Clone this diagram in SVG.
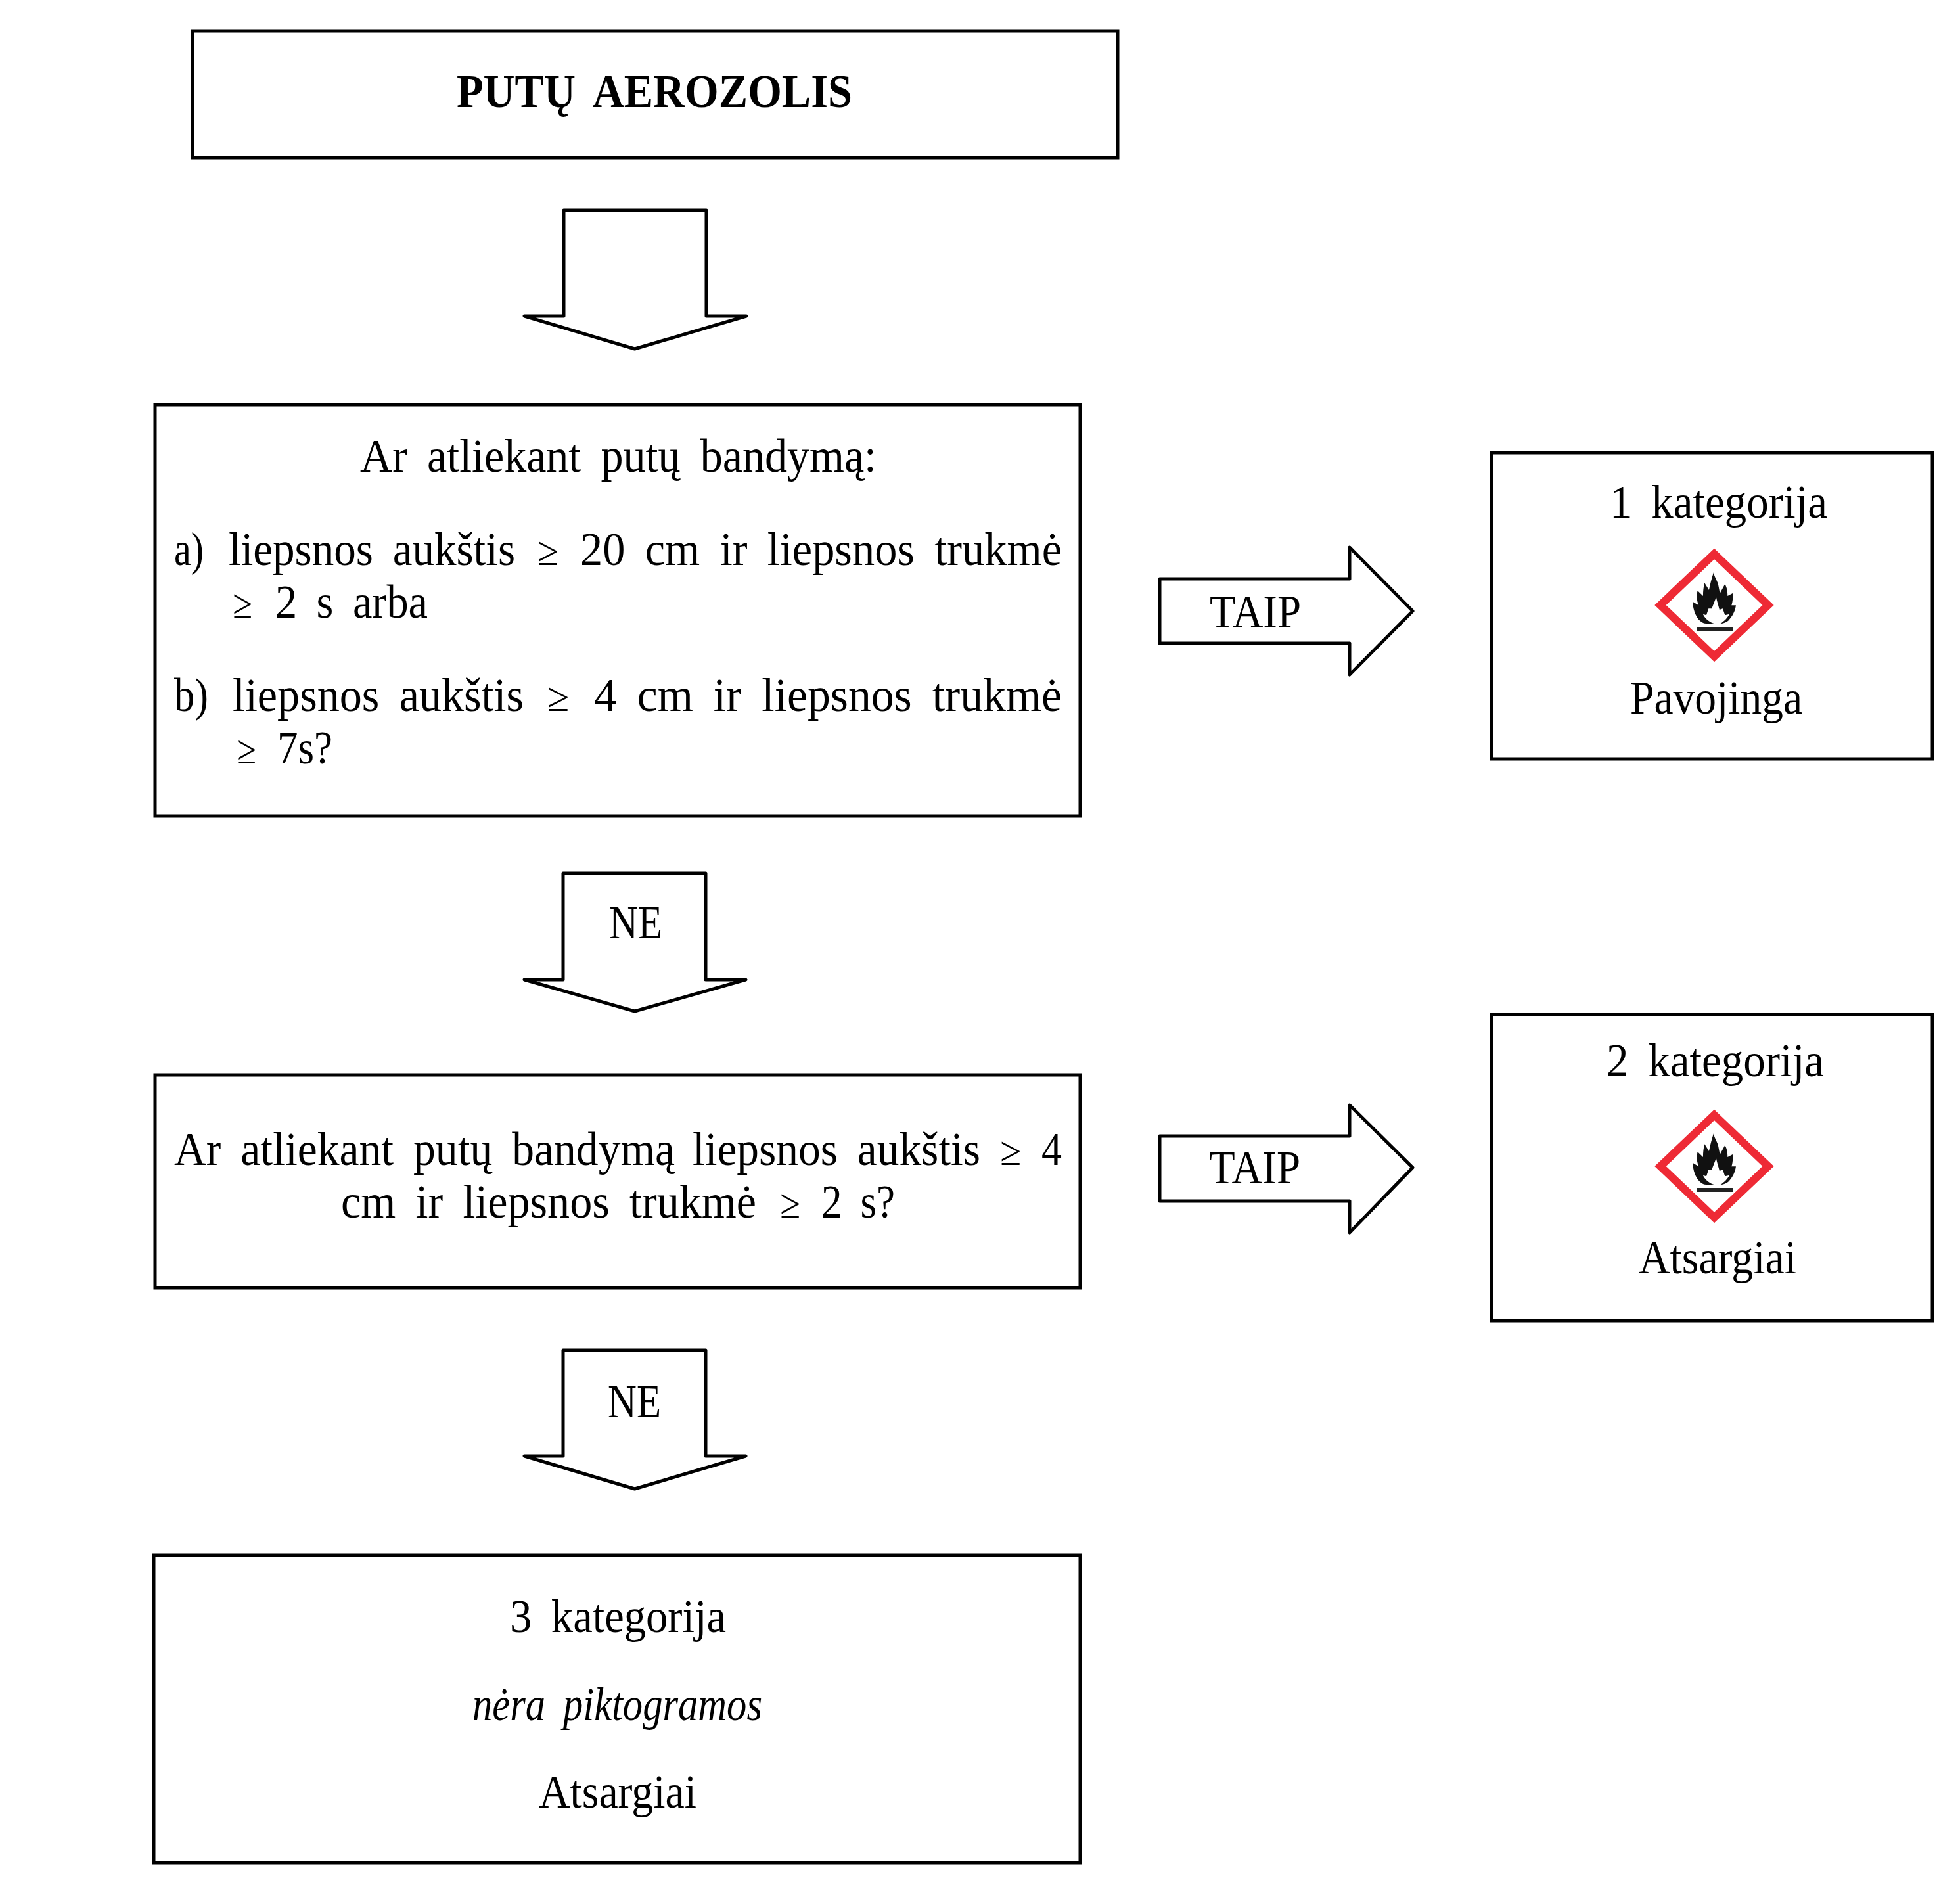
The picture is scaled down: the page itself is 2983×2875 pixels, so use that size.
<svg xmlns="http://www.w3.org/2000/svg" xmlns:xlink="http://www.w3.org/1999/xlink" width="2983" height="2875" viewBox="0 0 2983 2875">
<style>
.b{fill:#fff;stroke:#000;stroke-width:5}
.a{fill:#fff;stroke:#000;stroke-width:5;stroke-linejoin:round}
text{font-family:"Liberation Serif",serif;font-size:72px;fill:#000;word-spacing:14px}
.t{font-weight:bold}
.i{font-style:italic}
.g{font-size:62px}
</style>
<defs>
<g id="ghs">
<polygon points="0,-78 82,0 0,78 -82,0" fill="#fff" stroke="#ee2a35" stroke-width="12" stroke-linejoin="miter"/>
<path transform="translate(-128.7,-101.3) scale(.3333)" fill="#111" d="M335 385C305 370 290 330 287 288L315 305C305 280 305 258 310 238L335 262C335 240 337 220 342 203L362 235C368 205 375 180 383 155C388 180 402 195 405 215L412 250L435 208C445 225 447 245 447 262L470 250C472 270 470 290 465 305L485 305C482 330 470 355 450 375C440 383 428 387 415 388C430 378 445 365 455 345L435 350L425 320L410 325C405 305 398 285 395 268C388 285 380 305 375 320L360 320L350 350L335 345C342 362 360 380 385 388C368 390 350 390 335 385Z"/>
<rect x="-26" y="33" width="54" height="6" fill="#222"/>
</g>
</defs>
<rect width="2983" height="2875" fill="#fff"/>
<g id="connectors">
<g id="arrow-1"><path class="a" d="M858 320V481H798L966 531L1136 481H1075V320Z"/></g>
<g id="arrow-2"><path class="a" d="M857 1329V1491H798L966 1539L1135 1491H1074V1329Z"/><text x="927" y="1428" textLength="81" lengthAdjust="spacingAndGlyphs">NE</text></g>
<g id="arrow-3"><path class="a" d="M857 2055V2216H798L966 2266L1135 2216H1074V2055Z"/><text x="925" y="2157" textLength="81" lengthAdjust="spacingAndGlyphs">NE</text></g>
<g id="arrow-4"><path class="a" d="M1765 881H2054V833L2150 930L2054 1027V979H1765Z"/><text x="1841" y="955" textLength="139" lengthAdjust="spacingAndGlyphs">TAIP</text></g>
<g id="arrow-5"><path class="a" d="M1765 1729H2054V1682L2150 1777L2054 1876V1828H1765Z"/><text x="1840" y="1801" textLength="139" lengthAdjust="spacingAndGlyphs">TAIP</text></g>
</g>
<g id="node-title"><rect class="b" x="293" y="47" width="1408" height="193"/><text class="t" x="695" y="163" textLength="602" lengthAdjust="spacingAndGlyphs">PUTŲ AEROZOLIS</text></g>
<g id="node-q1"><rect class="b" x="236" y="616" width="1408" height="626"/>
<text x="548" y="718" textLength="786" lengthAdjust="spacingAndGlyphs">Ar atliekant putų bandymą:</text>
<text x="265" y="860" textLength="45" lengthAdjust="spacingAndGlyphs">a)</text>
<text x="348" y="860" textLength="436" lengthAdjust="spacingAndGlyphs">liepsnos aukštis</text>
<text class="g" x="818" y="860" textLength="32" lengthAdjust="spacingAndGlyphs">≥</text>
<text x="883" y="860" textLength="733" lengthAdjust="spacingAndGlyphs">20 cm ir liepsnos trukmė</text>
<text class="g" x="354" y="940" textLength="30" lengthAdjust="spacingAndGlyphs">≥</text>
<text x="419" y="940" textLength="232" lengthAdjust="spacingAndGlyphs">2 s arba</text>
<text x="265" y="1082" textLength="52" lengthAdjust="spacingAndGlyphs">b)</text>
<text x="354" y="1082" textLength="443" lengthAdjust="spacingAndGlyphs">liepsnos aukštis</text>
<text class="g" x="833" y="1082" textLength="33" lengthAdjust="spacingAndGlyphs">≥</text>
<text x="904" y="1082" textLength="712" lengthAdjust="spacingAndGlyphs">4 cm ir liepsnos trukmė</text>
<text class="g" x="360" y="1162" textLength="30" lengthAdjust="spacingAndGlyphs">≥</text>
<text x="422" y="1162" textLength="84" lengthAdjust="spacingAndGlyphs">7s?</text></g>
<g id="node-q2"><rect class="b" x="236" y="1636" width="1408" height="324"/>
<text x="265" y="1773" textLength="762" lengthAdjust="spacingAndGlyphs">Ar atliekant putų bandymą</text>
<text x="1054" y="1773" textLength="438" lengthAdjust="spacingAndGlyphs">liepsnos aukštis</text>
<text class="g" x="1522" y="1773" textLength="32" lengthAdjust="spacingAndGlyphs">≥</text>
<text x="1585" y="1773" textLength="31" lengthAdjust="spacingAndGlyphs">4</text>
<text x="519" y="1853" textLength="632" lengthAdjust="spacingAndGlyphs">cm ir liepsnos trukmė</text>
<text class="g" x="1187" y="1853" textLength="31" lengthAdjust="spacingAndGlyphs">≥</text>
<text x="1250" y="1853" textLength="112" lengthAdjust="spacingAndGlyphs">2 s?</text></g>
<g id="node-cat3"><rect class="b" x="234" y="2367" width="1410" height="468"/>
<text x="776" y="2484" textLength="329" lengthAdjust="spacingAndGlyphs">3 kategorija</text>
<text class="i" x="719" y="2618" textLength="441" lengthAdjust="spacingAndGlyphs">nėra piktogramos</text>
<text x="820" y="2751" textLength="240" lengthAdjust="spacingAndGlyphs">Atsargiai</text></g>
<g id="node-cat1"><rect class="b" x="2270" y="689" width="671" height="466"/>
<text x="2450" y="788" textLength="331" lengthAdjust="spacingAndGlyphs">1 kategorija</text>
<use xlink:href="#ghs" href="#ghs" x="2609" y="921"/>
<text x="2481" y="1086" textLength="262" lengthAdjust="spacingAndGlyphs">Pavojinga</text></g>
<g id="node-cat2"><rect class="b" x="2270" y="1544" width="671" height="466"/>
<text x="2445" y="1638" textLength="331" lengthAdjust="spacingAndGlyphs">2 kategorija</text>
<use xlink:href="#ghs" href="#ghs" x="2609" y="1775"/>
<text x="2494" y="1938" textLength="240" lengthAdjust="spacingAndGlyphs">Atsargiai</text></g>
</svg>
